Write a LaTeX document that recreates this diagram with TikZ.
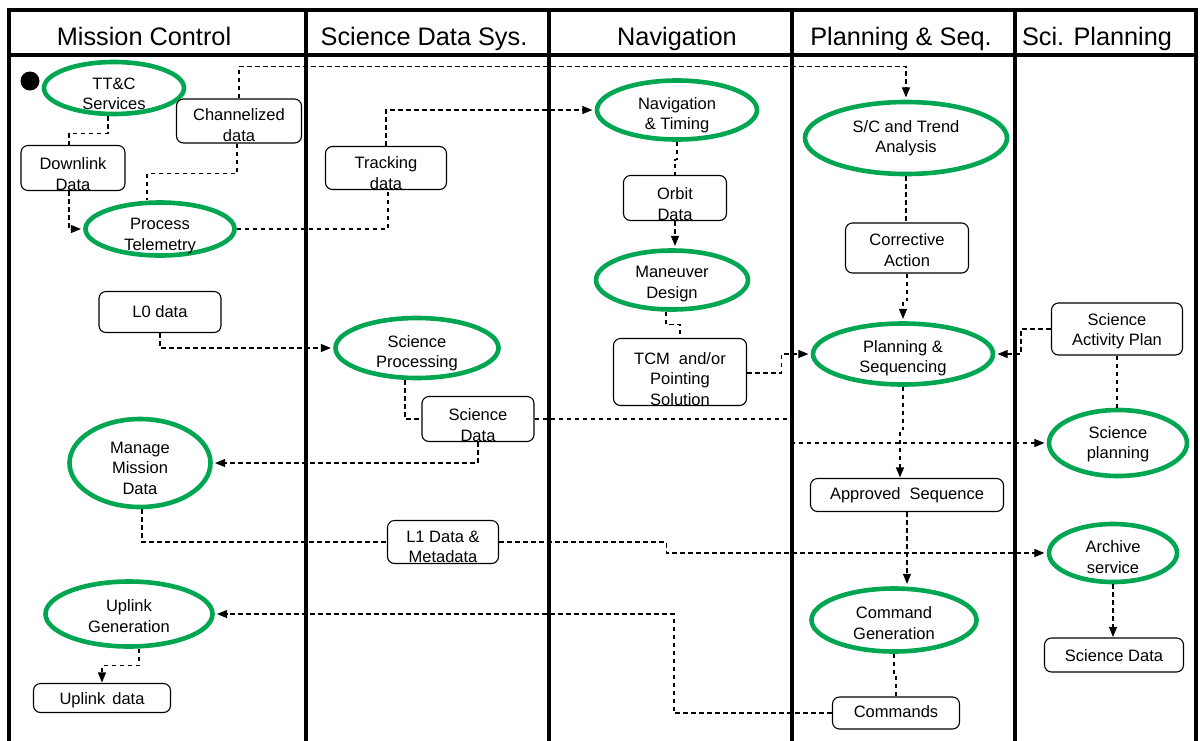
\documentclass[tikz,border=0pt]{standalone}
\usepackage{fontspec}
\setmainfont{Liberation Sans}
\usetikzlibrary{shapes.geometric,arrows.meta,calc}
\definecolor{grn}{RGB}{0,166,81}
\begin{document}
\begin{tikzpicture}[x=1pt,y=-1pt,
  lane/.style={line width=4.5pt, line cap=rect},
  proc/.style={ellipse, draw=grn, line width=4.6pt, fill=white, inner sep=0pt},
  databox/.style={rectangle, rounded corners=7pt, draw, line width=1.1pt, fill=white, inner sep=0pt},
  txt/.style={align=center, font=\fontsize{16.5pt}{20.5pt}\selectfont, inner sep=0pt},
  head/.style={font=\fontsize{25.3pt}{30pt}\selectfont, anchor=base, inner sep=0pt},
  flow/.style={draw, line width=1.1pt, dash pattern=on 4.5pt off 3.5pt},
  arr/.style={flow, -{Triangle[length=10pt,width=8pt]}, shorten >=2.3pt},
  arrb/.style={flow, -{Triangle[length=10pt,width=8pt]}, shorten >=0.5pt}]
\useasboundingbox (0,0) rectangle (1200,740);
\fill[white] (0,0) rectangle (1200,740);

% swimlanes
\draw[lane] (9,10) -- (1196,10);
\draw[lane] (9,55) -- (1196,55);
\foreach \x in {9,306,549,792,1015,1196} \draw[lane] (\x,10) -- (\x,740);
\coordinate (lane4) at (792,0);

\node[head] (h1) at (144,45) {Mission Control};
\node[head] (h2) at (424,45) {Science Data Sys.};
\node[head] (h3) at (677,45) {Navigation};
\node[head] (h4) at (901,45) {Planning \& Seq.};
\node[head] (h5) at (1097,45) {Sci. Planning};

% start dot
\node[circle, fill=black, inner sep=0pt, minimum size=19pt] (start) at (30,81) {};

% processes (ellipses)
\node[proc, minimum width=140pt, minimum height=52pt] (ttc) at (114,88) {};
\node[txt] (ttc-t) at (114,94) {TT\&C\\Services};
\node[proc, minimum width=149pt, minimum height=53pt] (proc) at (160,229) {};
\node[txt] (proc-t) at (160,236) {Process\\Telemetry};
\node[proc, minimum width=160pt, minimum height=59pt] (nav) at (677,110) {};
\node[txt] (nav-t) at (677,115) {Navigation\\\& Timing};
\node[proc, minimum width=202pt, minimum height=72pt] (sct) at (906,138) {};
\node[txt] (sct-t) at (906,138) {S/C and Trend\\Analysis};
\node[proc, minimum width=152pt, minimum height=59pt] (man) at (672,280) {};
\node[txt] (man-t) at (672,284) {Maneuver\\Design};
\node[proc, minimum width=163pt, minimum height=60pt] (sci) at (417,348) {};
\node[txt] (sci-t) at (417,353) {Science\\Processing};
\node[proc, minimum width=141pt, minimum height=88pt] (mmd) at (140,463) {};
\node[txt] (mmd-t) at (140,468) {Manage\\Mission\\Data};
\node[proc, minimum width=180pt, minimum height=61pt] (plan) at (903,354) {};
\node[txt] (plan-t) at (903,358) {Planning \&\\Sequencing};
\node[proc, minimum width=138pt, minimum height=66pt] (scip) at (1118,443) {};
\node[txt] (scip-t) at (1118,444) {Science\\planning};
\node[proc, minimum width=167pt, minimum height=65pt] (upg) at (129,614) {};
\node[txt] (upg-t) at (129,616) {Uplink\\Generation};
\node[proc, minimum width=128pt, minimum height=58pt] (arch) at (1113,553) {};
\node[txt] (arch-t) at (1113,557) {Archive\\service};
\node[proc, minimum width=165pt, minimum height=63pt] (cmd) at (894,620) {};
\node[txt] (cmd-t) at (894,623) {Command\\Generation};

% data boxes
\node[databox, minimum width=125pt, minimum height=44pt] (chan) at (239,121) {};
\node[txt] (chan-t) at (239,125) {Channelized\\data};
\node[databox, minimum width=104pt, minimum height=45pt] (down) at (73,168) {};
\node[txt] (down-t) at (73,174) {Downlink\\Data};
\node[databox, minimum width=121pt, minimum height=43pt] (track) at (386,168) {};
\node[txt] (track-t) at (386,173) {Tracking\\data};
\node[databox, minimum width=103pt, minimum height=45pt] (orbit) at (675,198) {};
\node[txt] (orbit-t) at (675,204) {Orbit\\Data};
\node[databox, minimum width=123pt, minimum height=50pt] (corr) at (907,248) {};
\node[txt] (corr-t) at (907,250) {Corrective\\Action};
\node[databox, minimum width=122pt, minimum height=41pt] (l0) at (160,312) {};
\node[txt] (l0-t) at (160,312) {L0 data};
\node[databox, minimum width=133pt, minimum height=67pt] (tcm) at (680,372) {};
\node[txt] (tcm-t) at (680,379) {TCM\hspace{9pt}and/or\\Pointing\\Solution};
\node[databox, minimum width=112pt, minimum height=45pt] (sdata) at (478,419) {};
\node[txt] (sdata-t) at (478,425) {Science\\Data};
\node[databox, minimum width=131pt, minimum height=52pt] (sap) at (1117,329) {};
\node[txt] (sap-t) at (1117,331) {Science\\Activity Plan};
\node[databox, minimum width=193pt, minimum height=33pt] (appr) at (907,495) {};
\node[txt] (appr-t) at (907,495) {Approved\hspace{9pt}Sequence};
\node[databox, minimum width=111pt, minimum height=43pt] (l1) at (443,542) {};
\node[txt] (l1-t) at (443,547) {L1 Data \&\\Metadata};
\node[databox, minimum width=137pt, minimum height=29pt] (upd) at (102,698) {};
\node[txt] (upd-t) at (102,700) {Uplink\hspace{7pt}data};
\node[databox, minimum width=139pt, minimum height=34pt] (sdat2) at (1114,655) {};
\node[txt] (sdat2-t) at (1114,656) {Science Data};
\node[databox, minimum width=127pt, minimum height=32pt] (cmds) at (896,713) {};
\node[txt] (cmds-t) at (896,712) {Commands};

% connectors
\draw[flow] ([xshift=-6pt]ttc.south) -- ++(0,17) -| ([xshift=-4pt]down.north);
\draw[arr] ([xshift=-4pt]down.south) |- (proc.west);
\draw[flow] ([xshift=-2pt]chan.south) -- ++(0,30) -| ([xshift=-13pt]proc.north);
\draw[arr] (chan.north) -- ++(0,-32) -| (sct.north);
\draw[flow] (proc.east) -| ([xshift=2pt]track.south);
\draw[arr] (track.north) |- (nav.west);
\draw[flow] (nav.south) -- ++(0,18) -| (orbit.north);
\draw[arr] (orbit.south) -- (orbit.south |- man.north);
\draw[flow] ([xshift=-6pt]man.south) -- ++(0,13) -| (tcm.north);
\draw[arr] ([yshift=-1pt]tcm.east) -- ++(34,0) |- (plan.west);
\draw[flow] (sct.south) -- (sct.south |- corr.north);
\draw[arr] (corr.south) -- ++(0,27) -| (plan.north);
\draw[arr] (sap.west) -- ++(-30,0) |- (plan.east);
\draw[flow] (sap.south) -- (sap.south |- scip.north);
\draw[arr] (l0.south) |- (sci.west);
\draw[flow] ([xshift=-12pt]sci.south) |- (sdata.west);
\draw[arr] (sdata.south) |- (mmd.east);
\draw[arr] (sdata.east) -| (lane4 |- scip.west) -- (scip.west);
\draw[arrb] (plan.south) -- ++(0,43) -| ([xshift=-7pt]appr.north);
\draw[arr] (appr.south) -- (appr.south |- cmd.north);
\draw[flow] ([xshift=2pt]mmd.south) |- (l1.west);
\draw[arr] (l1.east) -- ++(167,0) |- (arch.west);
\draw[flow] (cmd.south) -- ++(0,20) -| (cmds.north);
\draw[arr] (cmds.west) -- ++(-158,0) |- (upg.east);
\draw[arrb] ([xshift=10pt]upg.south) -- ++(0,17) -| (upd.north);
\draw[arrb] (arch.south) -- (arch.south |- sdat2.north);
\end{tikzpicture}
\end{document}
